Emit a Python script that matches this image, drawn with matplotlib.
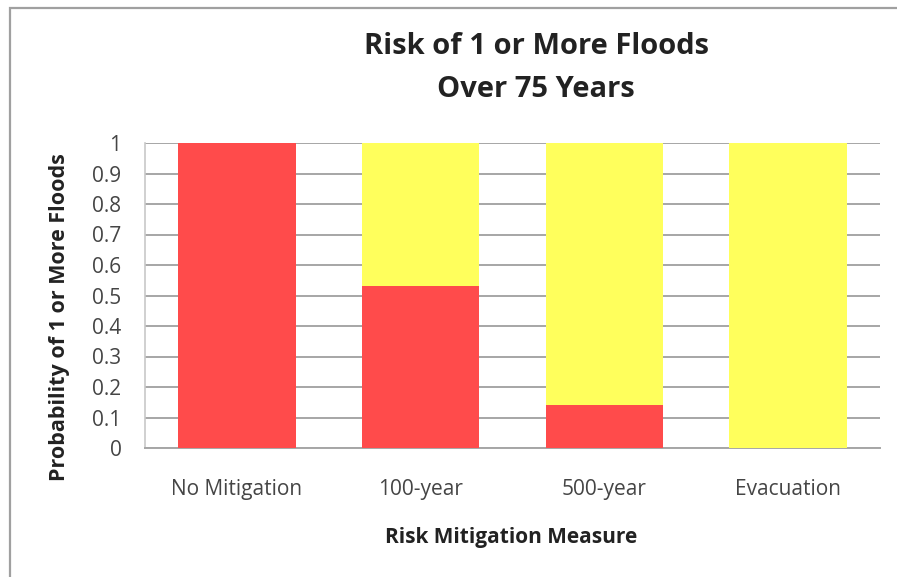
import numpy as np
import matplotlib.pyplot as plt
from matplotlib.patches import Rectangle

plt.rcParams['font.family'] = ['Open Sans', 'DejaVu Sans']

# Chance of at least one flood in 75 years, per mitigation option
measures = ['No Mitigation', '100-year', '500-year', 'Evacuation']
flood_prob = [1.0, 0.53, 0.14, 0.0]
no_flood_prob = [0.0, 0.47, 0.86, 1.0]
y_ticks = [0, 0.1, 0.2, 0.3, 0.4, 0.5, 0.6, 0.7, 0.8, 0.9, 1]
y_tick_labels = ['0', '0.1', '0.2', '0.3', '0.4', '0.5', '0.6', '0.7', '0.8', '0.9', '1']

RED = '#FF4B4B'
YELLOW = '#FFFF5C'
GRID = '#A6A6A6'
TEXT = '#454545'

fig = plt.figure(figsize=(8.97, 5.77), dpi=100)
fig.patch.set_facecolor('white')

# outer frame (only left/top edges fall inside the canvas)
fig.patches.append(Rectangle((10 / 897, -0.01), 1.0, 1 - 8 / 577 + 0.01,
                             transform=fig.transFigure, fill=False,
                             edgecolor='#A0A0A0', linewidth=1.6))

ax = fig.add_axes([145 / 897, 1 - 448 / 577, 735 / 897, 305 / 577])
x = np.arange(len(measures))
ax.bar(x, flood_prob, width=0.64, color=RED, zorder=3)
ax.bar(x, no_flood_prob, width=0.64, bottom=flood_prob, color=YELLOW, zorder=3)

ax.set_xlim(-0.5, len(measures) - 0.5)
ax.set_ylim(0, 1)
ax.set_yticks(y_ticks)
ax.set_yticklabels(y_tick_labels)
ax.set_xticks(x)
ax.set_xticklabels(measures)
ax.tick_params(axis='both', length=0, labelsize=15, colors=TEXT)
ax.tick_params(axis='y', pad=17)
ax.tick_params(axis='x', pad=22)

ax.yaxis.grid(True, color=GRID, linewidth=1.4, zorder=0)
for side in ['top', 'right']:
    ax.spines[side].set_visible(False)
ax.spines['left'].set_color('#C8C8C8')
ax.spines['bottom'].set_color(GRID)
ax.spines['left'].set_linewidth(1.2)
ax.spines['bottom'].set_linewidth(1.4)

fig.text(536 / 897, 1 - 68 / 577, 'Risk of 1 or More Floods\nOver 75 Years',
         ha='center', va='center', fontsize=21, fontweight='bold',
         color='#222222', linespacing=1.65)
fig.text(511 / 897, 1 - 537 / 577, 'Risk Mitigation Measure',
         ha='center', va='center', fontsize=15, fontweight='bold', color='#222222')
fig.text(60 / 897, 1 - 317 / 577, 'Probability of 1 or More Floods',
         ha='center', va='center', rotation=90, fontsize=15.5,
         fontweight='bold', color='#222222')

fig.savefig('out.png', dpi=100)
